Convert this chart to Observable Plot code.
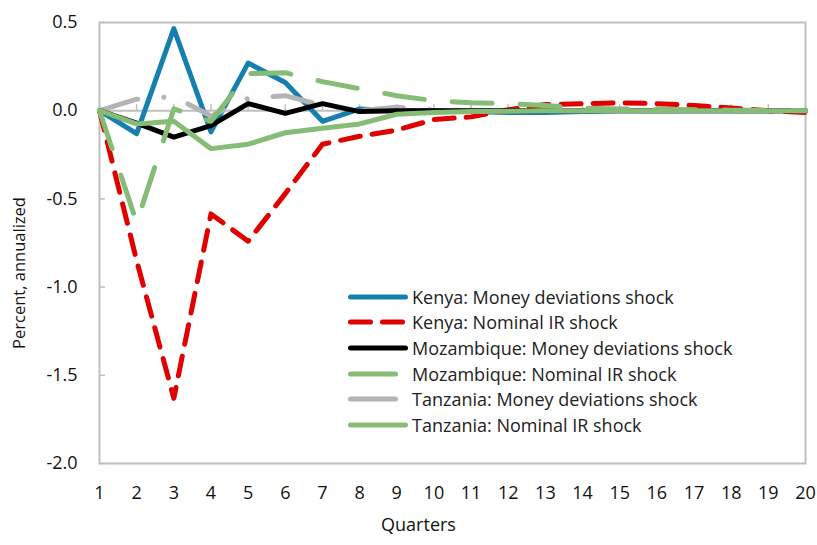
<!DOCTYPE html>
<html>
<head>
<meta charset="utf-8">
<script src="https://cdn.jsdelivr.net/npm/d3@7"></script>
<script src="https://cdn.jsdelivr.net/npm/@observablehq/plot@0.6"></script>
<style>
  html, body { margin: 0; padding: 0; background: #fff; }
  #wrap { position: relative; width: 817px; height: 545px; font-family: "Open Sans", "Noto Sans", sans-serif; }
  #legend { position: absolute; left: 348px; top: 284px; font-size: 18px; color: #222; }
  .row { height: 25.6px; display: flex; align-items: center; white-space: nowrap; }
  .row svg { width: 62px; height: 10px; margin-right: 2px; flex: none; }
</style>
</head>
<body>
<div id="wrap"></div>
<script>
const quarters = d3.range(1, 21);
const yTicks = [-2.0, -1.5, -1.0, -0.5, 0.0, 0.5];

const kenyaMoney   = [0, -0.13, 0.465, -0.12, 0.27, 0.16, -0.06, 0.01, 0.0, 0.0, -0.005, -0.01, -0.01, -0.005, 0, 0, 0, 0, 0, 0];
const kenyaIR      = [0, -0.85, -1.63, -0.585, -0.74, -0.47, -0.19, -0.145, -0.11, -0.05, -0.035, 0.005, 0.035, 0.04, 0.045, 0.04, 0.03, 0.015, 0.0, -0.01];
const mozMoney     = [0, -0.07, -0.15, -0.085, 0.04, -0.015, 0.04, -0.005, 0.0, 0.0, 0.0, 0.0, 0.0, 0.0, 0, 0, 0, 0, 0, 0];
const mozIR        = [0, -0.635, 0.01, -0.06, 0.21, 0.215, 0.165, 0.125, 0.085, 0.057, 0.045, 0.04, 0.03, 0.015, 0.01, 0.008, 0.005, 0.003, 0.002, 0.0];
const tanMoney     = [0, 0.065, 0.08, -0.03, 0.07, 0.085, 0.03, 0.0, 0.02, 0.005, 0.0, 0.0, 0.0, 0.0, 0, 0, 0, 0, 0, 0];
const tanIR        = [0, -0.075, -0.06, -0.215, -0.19, -0.125, -0.10, -0.075, -0.02, -0.01, -0.005, -0.003, 0, 0, 0, 0, 0, 0, 0, 0];

const seriesNames = [
  "Kenya: Money deviations shock",
  "Kenya: Nominal IR shock",
  "Mozambique: Money deviations shock",
  "Mozambique: Nominal IR shock",
  "Tanzania: Money deviations shock",
  "Tanzania: Nominal IR shock"
];
const seriesValues = [kenyaMoney, kenyaIR, mozMoney, mozIR, tanMoney, tanIR];
const seriesColors = ["#1580b0", "#e00000", "#000000", "#85bc76", "#b4b4b4", "#85bc76"];
const seriesDash   = [null, "20,12", null, "40,28", "40,26,0.1,26", null];
const drawOrder = [0, 1, 4, 2, 3, 5];

const rows = [];
seriesValues.forEach((vals, s) => vals.forEach((v, i) => rows.push({s, q: quarters[i], v})));

const lineMarks = drawOrder.map(s => Plot.line(rows.filter(r => r.s === s), {
  x: "q", y: "v",
  stroke: seriesColors[s],
  strokeWidth: 5,
  strokeDasharray: seriesDash[s] || undefined,
  strokeLinecap: "round",
  strokeLinejoin: "round"
}));

const grid = "#bfbfbf";
const chart = Plot.plot({
  width: 817,
  height: 545,
  marginLeft: 99,
  marginRight: 12,
  marginTop: 22,
  marginBottom: 82,
  style: {fontFamily: "'Open Sans', 'Noto Sans', sans-serif", fontSize: "18px", color: "#111", background: "#fff"},
  x: {domain: [1, 20]},
  y: {domain: [-2, 0.5]},
  marks: [
    Plot.frame({stroke: grid, strokeWidth: 2}),
    Plot.ruleY([0], {stroke: grid, strokeWidth: 2}),
    Plot.ruleY(yTicks, {y: d => d, x1: 1, x2: 1, insetRight: -6, stroke: grid, strokeWidth: 1.5}),
    Plot.ruleX(quarters, {x: d => d, y1: 0, y2: 0, insetTop: -6, stroke: grid, strokeWidth: 1.5}),
    Plot.axisY(yTicks, {tickSize: 0, tickPadding: 22, tickFormat: d => d.toFixed(1), fontSize: 18, label: null}),
    Plot.axisX(quarters, {anchor: "bottom", tickSize: 0, tickPadding: 23, tickFormat: d => String(d), fontSize: 18, label: null}),
    ...lineMarks,
    Plot.text(["Quarters"], {frameAnchor: "bottom", textAnchor: "middle", dx: -34, dy: 67, fontSize: 18, fill: "#111"}),
    Plot.text(["Percent, annualized"], {frameAnchor: "left", textAnchor: "middle", rotate: -90, dx: -80, dy: 30, fontSize: 16.5, fill: "#111"})
  ]
});

const wrap = document.getElementById("wrap");
wrap.appendChild(chart);

const legend = document.createElement("div");
legend.id = "legend";
const sampleLen = [60, 60, 60, 50, 50, 60];
seriesNames.forEach((name, s) => {
  const row = document.createElement("div");
  row.className = "row";
  const svg = d3.create("svg").attr("viewBox", "0 0 62 10");
  svg.append("line")
    .attr("x1", 2.5).attr("x2", 2.5 + sampleLen[s] - 5).attr("y1", 5).attr("y2", 5)
    .attr("stroke", seriesColors[s]).attr("stroke-width", 5)
    .attr("stroke-linecap", "round")
    .attr("stroke-dasharray", s === 1 ? "20,12" : null);
  row.appendChild(svg.node());
  const span = document.createElement("span");
  span.textContent = name;
  row.appendChild(span);
  legend.appendChild(row);
});
wrap.appendChild(legend);
</script>
</body>
</html>
